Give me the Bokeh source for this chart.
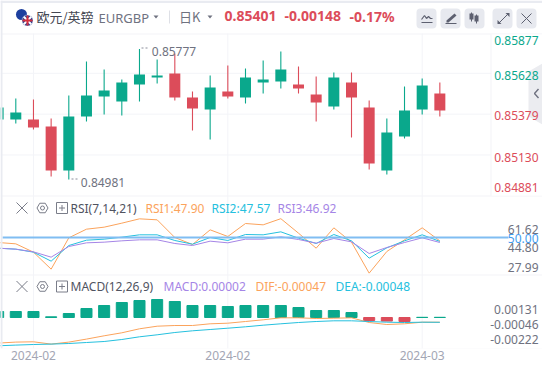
from bokeh.plotting import figure
from bokeh.models import Range1d, BoxAnnotation, Label, Span, LinearAxis, FixedTicker
from bokeh.embed import file_html
from bokeh.resources import INLINE

# ---- data -------------------------------------------------------------
index = list(range(-1, 25))
opens = [0.85346, 0.85346, 0.85346, 0.85304, 0.85035, 0.85365, 0.85487, 0.85456, 0.85560, 0.85603,
         0.85627, 0.85481, 0.85407, 0.85517, 0.85481, 0.85572, 0.85578, 0.85560, 0.85499, 0.85426,
         0.85572, 0.85420, 0.85035, 0.85243, 0.85407, 0.85505]
closes = [0.85420, 0.85389, 0.85298, 0.85035, 0.85365, 0.85493, 0.85523, 0.85572, 0.85621, 0.85615,
          0.85481, 0.85414, 0.85542, 0.85487, 0.85603, 0.85590, 0.85651, 0.85536, 0.85450, 0.85603,
          0.85481, 0.85078, 0.85267, 0.85401, 0.85554, 0.85401]
highs = [0.85440, 0.85475, 0.85468, 0.85353, 0.85493, 0.85700, 0.85651, 0.85590, 0.85777, 0.85712,
         0.85749, 0.85517, 0.85615, 0.85676, 0.85658, 0.85706, 0.85761, 0.85670, 0.85609, 0.85633,
         0.85633, 0.85462, 0.85353, 0.85548, 0.85597, 0.85572]
lows = [0.85330, 0.85322, 0.85285, 0.84999, 0.84981, 0.85334, 0.85377, 0.85371, 0.85456, 0.85566,
        0.85462, 0.85279, 0.85224, 0.85475, 0.85444, 0.85505, 0.85536, 0.85505, 0.85334, 0.85407,
        0.85237, 0.85042, 0.85011, 0.85231, 0.85377, 0.85365]

rsi1 = [46.91, 46.09, 40.95, 30.45, 49.79, 55.14, 56.38, 58.85, 61.52, 60.91, 50.00, 45.68, 54.73,
        50.62, 58.64, 57.82, 61.62, 52.68, 43.41, 55.97, 47.12, 27.99, 41.36, 48.56, 55.97, 47.90]
rsi2 = [43.41, 42.80, 40.95, 35.39, 45.06, 48.35, 48.97, 50.21, 51.65, 51.65, 48.15, 45.88, 50.00,
        48.15, 51.85, 51.65, 53.50, 49.59, 46.30, 51.85, 47.94, 37.24, 43.62, 47.94, 51.65, 47.57]
rsi3 = [43.41, 42.80, 41.15, 37.86, 44.44, 46.71, 47.12, 47.94, 48.56, 48.56, 46.30, 45.06, 47.74,
        46.71, 48.97, 48.97, 50.41, 48.77, 46.50, 49.38, 47.32, 40.12, 43.83, 46.91, 49.79, 46.92]

macd = [0.00060, 0.00060, 0.00060, 0.00007, 0.00040, 0.00090, 0.00120, 0.00150, 0.00170, 0.00180,
        0.00160, 0.00120, 0.00120, 0.00110, 0.00120, 0.00120, 0.00120, 0.00100, 0.00070, 0.00070,
        0.00050, -0.00030, -0.00036, -0.00040, 0.00002, 0.00002]
dif = [-0.00256, -0.00246, -0.00243, -0.00266, -0.00246, -0.00216, -0.00183, -0.00153, -0.00113,
       -0.00087, -0.00080, -0.00080, -0.00063, -0.00057, -0.00040, -0.00023, -0.00003, -0.00003,
       -0.00010, -0.00007, -0.00003, -0.00050, -0.00070, -0.00063, -0.00047, -0.00047]
dea = [-0.00283, -0.00276, -0.00270, -0.00266, -0.00260, -0.00250, -0.00240, -0.00220, -0.00193,
       -0.00173, -0.00150, -0.00133, -0.00120, -0.00107, -0.00093, -0.00077, -0.00063, -0.00050,
       -0.00040, -0.00033, -0.00033, -0.00040, -0.00047, -0.00050, -0.00047, -0.00048]

price_levels = [0.85628, 0.85379, 0.85130]
date_ticks = [1, 12, 23]
date_labels = ["2024-02", "2024-02", "2024-03"]
price_labels = ["0.85877", "0.85628", "0.85379", "0.85130", "0.84881"]
rsi_labels = ["61.62", "50.00", "44.80", "27.99"]
macd_labels = ["0.00131", "-0.00046", "-0.00222"]

# ---- colours / fonts --------------------------------------------------
GREEN, RED = "#0aa88c", "#dc4c5a"
GRID = "#f3f4f8"
TXT = "#6f7280"
ORANGE, CYAN, PURPLE = "#fba35c", "#25c0de", "#a585e6"
FONT, CJK = "Noto Sans", "Noto Sans CJK SC"

FH = 348
p = figure(width=542, height=369, output_backend="svg", toolbar_location=None,
           x_range=Range1d(-0.866, 29.81), y_range=Range1d(0.83950, 0.86072),
           x_axis_location=None, y_axis_location=None,
           min_border=0, min_border_bottom=369 - FH, outline_line_color=None,
           background_fill_color="white", border_fill_color="white")
p.grid.visible = False
p.extra_x_ranges["px"] = Range1d(0, 542)
p.extra_y_ranges["py"] = Range1d(FH, 0)
p.extra_y_ranges["rsi"] = Range1d(-18.52, 196.3)
p.extra_y_ranges["macd"] = Range1d(-0.0031, 0.0317)

xaxis = LinearAxis(ticker=FixedTicker(ticks=date_ticks),
                   major_label_overrides=dict(zip(date_ticks, date_labels)),
                   axis_line_color=None, major_tick_line_color=None, minor_tick_line_color=None,
                   major_tick_in=0, major_tick_out=0, minor_tick_in=0, minor_tick_out=0,
                   major_label_text_color="#a3a6b4", major_label_text_font=FONT,
                   major_label_text_font_size="12px", major_label_standoff=2)
p.add_layout(xaxis, "below")


def box(l, t, r, b, color, level="underlay", radius=0):
    p.add_layout(BoxAnnotation(left=l, right=r, top=t, bottom=b, x_range_name="px", y_range_name="py",
                               fill_color=color, fill_alpha=1, line_alpha=0, level=level,
                               border_radius=radius))


def label(x, y, s, color, size=12, align="left", bold=False, font=FONT):
    p.add_layout(Label(x=x, y=y, text=s, x_range_name="px", y_range_name="py", text_color=color,
                       text_font=font, text_font_size=f"{size}px", text_align=align,
                       text_baseline="middle", text_font_style="bold" if bold else "normal"))


def chrome_line(xs, ys, color, width=1.0, dash="solid"):
    p.line(xs, ys, x_range_name="px", y_range_name="py", line_color=color, line_width=width, line_dash=dash)


# grid
for g in date_ticks:
    p.add_layout(Span(location=g, dimension="height", line_color=GRID, line_width=1, level="underlay"))
for lv in price_levels:
    p.add_layout(Span(location=lv, dimension="width", line_color=GRID, line_width=1, level="underlay"))

box(0, 0, 542, 33, "white")
box(0, 33, 542, 34, GRID)
box(0, 195, 542, 196, GRID)
box(0, 274, 542, 275, GRID)
box(0, 347.4, 542, 348, GRID)
box(491, 34, 542, 195, "white")
box(490, 34, 491, 195, GRID)

# candles
colors = [GREEN if c >= o else RED for o, c in zip(opens, closes)]
p.segment(index, highs, index, lows, line_color=colors, line_width=1.1)
p.vbar(x=index, width=0.6225, bottom=[min(a, b) for a, b in zip(opens, closes)],
       top=[max(a, b) for a, b in zip(opens, closes)], fill_color=colors, line_color=None)

# RSI
p.line(index, rsi1, y_range_name="rsi", line_color=ORANGE, line_width=1)
p.line(index, rsi2, y_range_name="rsi", line_color=CYAN, line_width=1)
p.line(index, rsi3, y_range_name="rsi", line_color=PURPLE, line_width=1)
chrome_line([2, 508], [237, 237], "#80bdf2", 2)

# MACD
macd_colors = [GREEN if m >= 0 else RED for m in macd]
p.vbar(x=index, width=0.625, bottom=0, top=macd, y_range_name="macd",
       fill_color=macd_colors, line_color=macd_colors, line_width=1)
p.line(index, dif, y_range_name="macd", line_color=ORANGE, line_width=1)
p.line(index, dea, y_range_name="macd", line_color=CYAN, line_width=1)

# outer bands
box(0, 0, 542, 2.5, "#e9ebf1", level="overlay")
box(0, 0, 2, FH, "#e9ebf1", level="overlay")

# high / low notes
label(151.3, 50.7, "0.85777", TXT, 12)
label(80.3, 181.7, "0.84981", TXT, 12)
chrome_line([141, 149], [47.5, 47.5], "#8a8d9a", 1, "2 2")
chrome_line([71, 79], [178.5, 178.5], "#8a8d9a", 1, "2 2")

# right price labels
for s, y, c in zip(price_labels, [40, 74.5, 115, 156.5, 187],
                   [GREEN, GREEN, RED, RED, RED]):
    label(493.7, y, s, c, 12)
# sidebar handle
p.patch([542, 528, 528, 542], [63, 71, 116, 124], x_range_name="px", y_range_name="py",
        fill_color="#ebecf0", line_color=None)
chrome_line([538, 534, 538], [88.5, 93, 97.5], "#6f7280", 1.4)

# RSI / MACD axis labels
for s, y, c in zip(rsi_labels, [229, 237.5, 247, 267], [TXT, "#3f9cf0", TXT, TXT]):
    label(538, y, s, c, 12, align="right")
for s, y in zip(macd_labels, [309, 324, 339]):
    label(538, y, s, TXT, 12, align="right")

# header
p.scatter([21], [14], size=11, x_range_name="px", y_range_name="py", fill_color="#1d3f9e", line_color=None)
p.scatter([27], [20], size=11, x_range_name="px", y_range_name="py", fill_color="#2b3f8f", line_color="white", line_width=0.5)
chrome_line([23.3, 30.7], [16.3, 23.7], "white", 2)
chrome_line([23.3, 30.7], [23.7, 16.3], "white", 2)
chrome_line([22, 32], [20, 20], "#d5303f", 2)
chrome_line([27, 27], [15, 25], "#d5303f", 2)
label(36, 15.5, "欧元/英镑", "#444752", 13, font=CJK)
label(98, 17, "EURGBP", TXT, 13)
label(178.5, 15.5, "日K", TXT, 13, font=CJK)
for x0 in (153, 207):
    p.patch([x0, x0 + 5, x0 + 2.5], [15, 15, 18], x_range_name="px", y_range_name="py",
            fill_color="#6f7280", line_color=None)
box(168.5, 10, 169.3, 23, "#d6d8e0")
label(224, 15.5, "0.85401", RED, 14, bold=True)
label(284, 15.5, "-0.00148", RED, 14, bold=True)
label(349, 15.5, "-0.17%", RED, 14, bold=True)

# toolbar buttons
for l in (416, 440, 464, 492, 516):
    box(l, 8, l + 20, 28, "#e7e9ef", radius=4)
ICON = "#5d6070"
chrome_line([421, 424, 426, 428, 430, 432], [19, 15, 18, 16, 18, 18], ICON, 1.2)
chrome_line([421, 432], [22, 22], ICON, 1.2)
p.patch([446, 454, 456, 448, 446], [20, 13, 15, 22, 22], x_range_name="px", y_range_name="py",
        fill_color=ICON, line_color=None)
chrome_line([445, 456], [23, 23], ICON, 1)
for xc, t, b in ((471, 13, 19), (476, 15, 21)):
    chrome_line([xc, xc], [t - 1, b + 2], ICON, 1)
    box(xc - 2, t, xc + 2, b, ICON)
chrome_line([498, 508], [23, 13], ICON, 1)
p.patch([505, 509, 509], [12.5, 12.5, 16.5], x_range_name="px", y_range_name="py", fill_color=ICON, line_color=None)
p.patch([497, 501, 497], [19.5, 23.5, 23.5], x_range_name="px", y_range_name="py", fill_color=ICON, line_color=None)
chrome_line([521, 531], [13, 23], ICON, 1)
chrome_line([521, 531], [23, 13], ICON, 1)

# pane headers
PANE = "#7a7d89"


def pane_icons(y):
    chrome_line([16, 27], [y - 5.5, y + 5.5], PANE, 1)
    chrome_line([16, 27], [y + 5.5, y - 5.5], PANE, 1)
    p.scatter([42], [y], size=11, marker="hex", x_range_name="px", y_range_name="py",
              fill_color=None, line_color=PANE, line_width=1)
    p.scatter([42], [y], size=4, x_range_name="px", y_range_name="py",
              fill_color=None, line_color=PANE, line_width=1)
    xs = [56, 67, 67, 56, 56]
    ys = [y - 5.5, y - 5.5, y + 5.5, y + 5.5, y - 5.5]
    chrome_line(xs, ys, PANE, 1)
    chrome_line([58.5, 64.5], [y, y], PANE, 1)
    chrome_line([61.5, 61.5], [y - 3, y + 3], PANE, 1)


pane_icons(207.5)
label(70, 207.5, "RSI(7,14,21)", "#50535f", 12)
label(145, 207.5, "RSI1:47.90", ORANGE, 12)
label(211, 207.5, "RSI2:47.57", CYAN, 12)
label(277, 207.5, "RSI3:46.92", PURPLE, 12)
pane_icons(286)
label(70, 286, "MACD(12,26,9)", "#50535f", 12)
label(163, 286, "MACD:0.00002", PURPLE, 12)
label(255, 286, "DIF:-0.00047", ORANGE, 12)
label(335, 286, "DEA:-0.00048", CYAN, 12)

open("out.html", "w").write(file_html(p, INLINE))
